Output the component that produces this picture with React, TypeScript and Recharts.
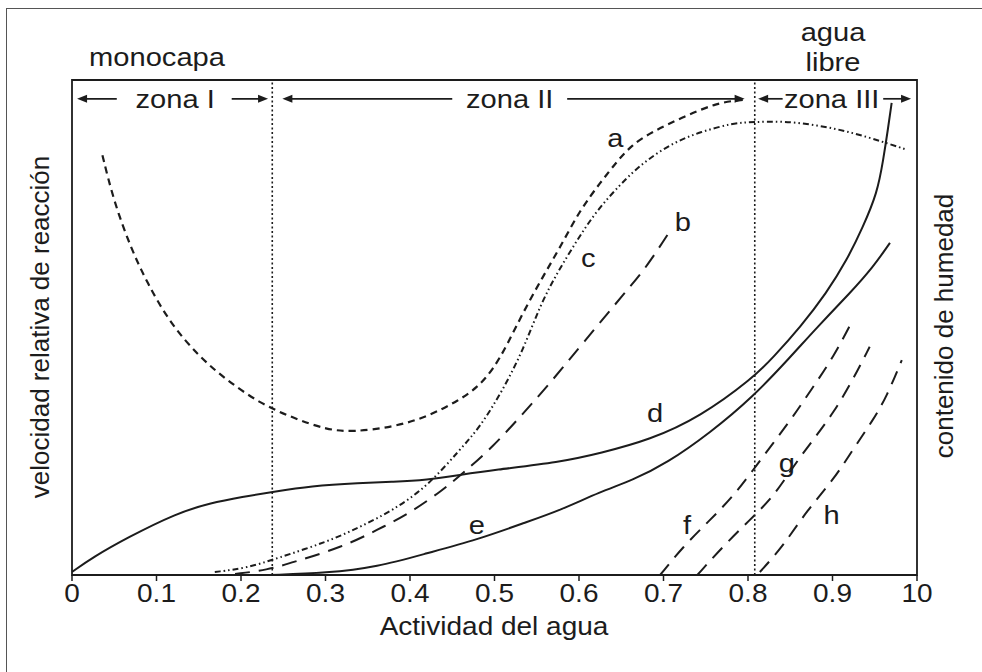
import React from 'react';
import {
  ComposedChart,
  Line,
  XAxis,
  YAxis,
  ReferenceLine,
  ReferenceArea,
  Scatter,
} from 'recharts';

const W = 982;
const H = 672;
const FONT = '"Liberation Sans", Arial, Helvetica, sans-serif';
const INK = '#1c1c1c';
const SX = 1.12; // the scan is a bit wider than tall

// eje x: actividad del agua
const tickVals = [0, 0.1, 0.2, 0.3, 0.4, 0.5, 0.6, 0.7, 0.8, 0.9, 1];
const tickLabels = ['0', '0.1', '0.2', '0.3', '0.4', '0.5', '0.6', '0.7', '0.8', '0.9', '10'];

// curvas [aw, valor relativo 0-100]
const curveA = [
  [0.036, 84.8], [0.049, 75.8], [0.069, 66.3], [0.089, 59.0], [0.116, 50.9],
  [0.151, 44.0], [0.183, 39.4], [0.222, 34.7], [0.262, 31.7], [0.302, 29.3],
  [0.333, 28.9], [0.380, 29.9], [0.420, 31.9], [0.459, 35.4], [0.479, 37.8],
  [0.498, 41.4], [0.515, 46.5], [0.534, 53.1], [0.557, 60.2], [0.578, 66.3],
  [0.601, 73.7], [0.625, 79.2], [0.646, 83.8], [0.663, 86.9], [0.684, 89.3],
  [0.723, 92.5], [0.763, 95.4], [0.794, 96.0],
];
const curveB = [
  [0.193, 0.2], [0.231, 1.0], [0.262, 2.6], [0.321, 5.7], [0.361, 9.1],
  [0.400, 12.5], [0.439, 17.2], [0.463, 20.6], [0.498, 25.9], [0.530, 31.9],
  [0.562, 38.0], [0.605, 46.9], [0.657, 57.6], [0.680, 62.2], [0.710, 70.1],
];
const curveC = [
  [0.169, 0.6], [0.207, 1.4], [0.243, 3.4], [0.302, 6.7], [0.341, 9.7],
  [0.380, 13.1], [0.420, 17.8], [0.459, 25.3], [0.483, 29.9], [0.510, 37.4],
  [0.534, 45.5], [0.554, 54.5], [0.574, 61.0], [0.598, 67.7], [0.621, 73.7],
  [0.657, 80.4], [0.680, 83.8], [0.711, 87.3], [0.743, 89.5], [0.782, 91.3],
  [0.806, 91.5], [0.841, 91.7], [0.882, 90.9], [0.921, 89.5], [0.960, 87.5],
  [0.988, 85.9],
];
const curveD = [
  [0, 0.6], [0.025, 3.6], [0.065, 7.5], [0.124, 12.5], [0.163, 14.5],
  [0.202, 15.8], [0.238, 16.8], [0.282, 18.0], [0.341, 18.6], [0.380, 18.8],
  [0.420, 19.2], [0.459, 20.2], [0.498, 21.2], [0.578, 22.8], [0.625, 24.6],
  [0.684, 27.3], [0.743, 31.9], [0.806, 39.8], [0.830, 44.0], [0.862, 50.1],
  [0.893, 57.0], [0.917, 63.6], [0.936, 70.3], [0.953, 77.2], [0.960, 83.8],
  [0.966, 90.5], [0.970, 95.4],
];
const curveE = [
  [0.234, 0], [0.302, 0.4], [0.361, 1.6], [0.420, 4.4], [0.479, 7.1],
  [0.538, 10.7], [0.578, 13.1], [0.625, 16.8], [0.664, 19.2], [0.704, 22.6],
  [0.755, 28.7], [0.806, 36.0], [0.850, 44.0], [0.882, 50.1], [0.921, 57.0],
  [0.948, 62.2], [0.968, 67.1],
];
const curveF = [
  [0.696, 0], [0.723, 5.7], [0.755, 11.1], [0.782, 15.8], [0.806, 21.2],
  [0.830, 26.7], [0.853, 31.9], [0.877, 38.0], [0.901, 44.0], [0.924, 51.5],
];
const curveG = [
  [0.740, 0], [0.770, 5.7], [0.802, 11.1], [0.830, 15.8], [0.853, 21.8],
  [0.877, 27.3], [0.901, 32.7], [0.924, 39.4], [0.944, 46.1],
];
const curveH = [
  [0.814, 0.6], [0.841, 5.7], [0.870, 13.1], [0.901, 19.2], [0.924, 25.3],
  [0.948, 31.3], [0.964, 36.0], [0.982, 43.4],
];

// letras de las curvas
const letterNames = ['a', 'b', 'c', 'd', 'e', 'f', 'g', 'h'];
const letterX = [0.643, 0.723, 0.611, 0.690, 0.479, 0.728, 0.846, 0.899];
const letterY = [88.3, 71.3, 64.0, 32.7, 10.1, 10.1, 22.6, 12.1];

// zonas
const zoneNames = ['zona I', 'zona II', 'zona III'];
const zoneX = [0.122, 0.518, 0.899];
const zoneRowY = 96.2;
const zoneLimits = [0.237, 0.808];
// [cola, punta]
const zoneArrows = [
  [0.053, 0.006], [0.189, 0.232],
  [0.450, 0.249], [0.586, 0.796],
  [0.841, 0.812], [0.960, 0.993],
];

const toPts = (arr: number[][]) => arr.map(([x, y]) => ({ x, y }));

const Stretch = ({ x, y, size = 26, children }: any) => (
  <text
    transform={`translate(${x} ${y}) scale(${SX} 1)`}
    textAnchor="middle"
    dominantBaseline="central"
    fontSize={size}
    fontFamily={FONT}
    fill={INK}
  >
    {children}
  </text>
);

const XTick = (props: any) => {
  const { x, y, index } = props;
  return <Stretch x={x} y={y + 11} size={25}>{tickLabels[index]}</Stretch>;
};

const Arrow = (props: any) => {
  const { x1, y1, x2, y2 } = props;
  const dir = Math.sign(x2 - x1);
  return (
    <g>
      <line x1={x1} y1={y1} x2={x2 - dir * 4} y2={y2} stroke={INK} strokeWidth={1.7} />
      <path
        d={`M${x2},${y2} L${x2 - dir * 10},${y2 - 4} L${x2 - dir * 10},${y2 + 4} Z`}
        fill={INK}
      />
    </g>
  );
};

const LabelShape = (props: any) => {
  const { cx, cy, payload } = props;
  return <Stretch x={cx} y={cy}>{payload.name}</Stretch>;
};

const curves = [
  { data: curveA, dash: '7 5', w: 2.2 },
  { data: curveB, dash: '15 9', w: 2 },
  { data: curveC, dash: '6 3 1.5 3 1.5 3', w: 2 },
  { data: curveD, dash: undefined, w: 2 },
  { data: curveE, dash: undefined, w: 2 },
  { data: curveF, dash: '14 9', w: 2 },
  { data: curveG, dash: '14 9', w: 2 },
  { data: curveH, dash: '14 9', w: 2 },
];

export default function App() {
  const letters = letterNames.map((name, i) => ({ x: letterX[i], y: letterY[i], name }));
  const zones = zoneNames.map((name, i) => ({ x: zoneX[i], y: zoneRowY, name }));

  return (
    <div style={{ position: 'absolute', left: 0, top: 0, width: W, height: H, background: '#fff' }}>
      <div
        style={{
          position: 'absolute', left: 6, top: 8, width: W, height: H,
          borderLeft: '1.5px solid #555', borderTop: '1.5px solid #555',
        }}
      />
      <div style={{ position: 'absolute', left: 0, top: 0 }}>
        <ComposedChart width={W} height={H} margin={{ top: 80, right: 65, bottom: 57, left: 72 }}>
          <XAxis
            type="number"
            dataKey="x"
            domain={[0, 1]}
            ticks={tickVals}
            interval={0}
            allowDataOverflow
            height={40}
            tickSize={6}
            tick={XTick}
            axisLine={{ stroke: INK, strokeWidth: 2 }}
            tickLine={{ stroke: INK, strokeWidth: 1.5 }}
          />
          <YAxis type="number" dataKey="y" domain={[0, 100]} hide allowDataOverflow />
          <ReferenceArea
            x1={0} x2={1} y1={0} y2={100}
            fill="none" fillOpacity={0} stroke={INK} strokeWidth={1.8}
            ifOverflow="visible"
          />
          {zoneLimits.map((v) => (
            <ReferenceLine key={v} x={v} stroke={INK} strokeWidth={1.6} strokeDasharray="2 2.5" />
          ))}
          {zoneArrows.map(([t, h], i) => (
            <ReferenceLine
              key={`arr-${i}`}
              segment={[{ x: t, y: zoneRowY }, { x: h, y: zoneRowY }]}
              shape={Arrow}
              ifOverflow="visible"
            />
          ))}
          {curves.map((c, i) => (
            <Line
              key={`c-${i}`}
              data={toPts(c.data)}
              dataKey="y"
              type="basis"
              stroke={INK}
              strokeWidth={c.w}
              strokeDasharray={c.dash}
              dot={false}
              activeDot={false}
              isAnimationActive={false}
            />
          ))}
          <Scatter data={letters} dataKey="y" shape={LabelShape} isAnimationActive={false} />
          <Scatter data={zones} dataKey="y" shape={LabelShape} isAnimationActive={false} />
        </ComposedChart>
      </div>
      <svg
        width={W}
        height={H}
        style={{ position: 'absolute', left: 0, top: 0, pointerEvents: 'none' }}
      >
        <Stretch x={157} y={57}>monocapa</Stretch>
        <Stretch x={833} y={32}>agua</Stretch>
        <Stretch x={833} y={62}>libre</Stretch>
        <Stretch x={494} y={627} size={25}>Actividad del agua</Stretch>
        <text
          transform="translate(40 327) rotate(-90)"
          textAnchor="middle"
          dominantBaseline="central"
          fontSize={26}
          fontFamily={FONT}
          fill={INK}
        >
          velocidad relativa de reacción
        </text>
        <text
          transform="translate(944 326) rotate(-90)"
          textAnchor="middle"
          dominantBaseline="central"
          fontSize={26}
          fontFamily={FONT}
          fill={INK}
        >
          contenido de humedad
        </text>
      </svg>
    </div>
  );
}
